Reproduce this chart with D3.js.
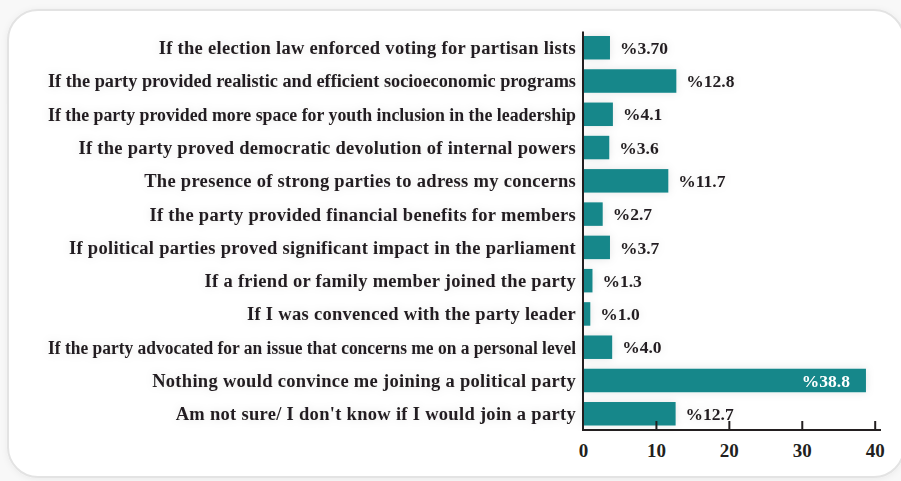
<!DOCTYPE html>
<html>
<head>
<meta charset="utf-8">
<script src="https://cdn.jsdelivr.net/npm/d3@7"></script>
<style>
  html, body { margin: 0; padding: 0; background: #f8f8f8; }
  svg { display: block; }
</style>
</head>
<body>
<svg id="chart" width="901" height="481"></svg>
<script>
// Reasons that would convince respondents to join a political party (%)
const categories = [
  "If the election law enforced voting for partisan lists",
  "If the party provided realistic and efficient socioeconomic programs",
  "If the party provided more space for youth inclusion in the leadership",
  "If the party proved democratic devolution of internal powers",
  "The presence of strong parties to adress my concerns",
  "If the party provided financial benefits for members",
  "If political parties proved significant impact in the parliament",
  "If a friend or family member joined the party",
  "If I was convenced with the party leader",
  "If the party advocated for an issue that concerns me on a personal level",
  "Nothing would convince me joining a political party",
  "Am not sure/ I don't know if I would join a party"
];
const values = [3.70, 12.8, 4.1, 3.6, 11.7, 2.7, 3.7, 1.3, 1.0, 4.0, 38.8, 12.7];
const valueLabels = ["%3.70", "%12.8", "%4.1", "%3.6", "%11.7", "%2.7", "%3.7", "%1.3", "%1.0", "%4.0", "%38.8", "%12.7"];
const xTicks = [0, 10, 20, 30, 40];

const svg = d3.select("#chart");
const W = 901, H = 481;
const FONT = "'Liberation Serif', 'Times New Roman', serif";
const TEXT = "#231f20";
const BAR = "#14878a";
const LABEL_RIGHT = 576;   // right edge of the category labels
const LABEL_MAX = 528;     // widest a category label may get

const defs = svg.append("defs");
const card = defs.append("filter").attr("id", "cardShadow")
  .attr("x", "-5%").attr("y", "-5%").attr("width", "110%").attr("height", "110%");
card.append("feDropShadow").attr("dx", 0).attr("dy", 1)
  .attr("stdDeviation", 3).attr("flood-color", "#000").attr("flood-opacity", 0.06);
const glow = defs.append("filter").attr("id", "softGlow")
  .attr("x", "-10%").attr("y", "-40%").attr("width", "120%").attr("height", "180%");
glow.append("feDropShadow").attr("dx", 0).attr("dy", 0)
  .attr("stdDeviation", 4).attr("flood-color", "#000").attr("flood-opacity", 0.10);

// Card background
svg.append("rect").attr("width", W).attr("height", H).attr("fill", "#f8f8f8");
svg.append("rect")
  .attr("x", 8).attr("y", 10).attr("width", 896).attr("height", 467)
  .attr("rx", 30).attr("ry", 30)
  .attr("fill", "#ffffff").attr("stroke", "#e3e3e3").attr("stroke-width", 2)
  .attr("filter", "url(#cardShadow)");

// Scales
const x = d3.scaleLinear().domain([0, 40]).range([583, 874.7]);
const y = d3.scaleBand().domain(categories).range([31.5, 430])
  .paddingInner(0.294).paddingOuter(0.135);

const g = svg.append("g").attr("filter", "url(#softGlow)");

// Bars
g.selectAll("rect.bar").data(values).join("rect")
  .attr("class", "bar")
  .attr("x", x(0))
  .attr("y", (d, i) => y(categories[i]))
  .attr("width", d => x(d) - x(0))
  .attr("height", y.bandwidth())
  .attr("fill", BAR);

// Category labels, squeezed when they would run past the left margin
g.selectAll("text.cat").data(categories).join("text")
  .attr("class", "cat")
  .attr("x", LABEL_RIGHT)
  .attr("y", d => y(d) + y.bandwidth() / 2)
  .attr("dy", "0.35em")
  .attr("text-anchor", "end")
  .attr("font-family", FONT).attr("font-weight", "bold").attr("font-size", 18.5)
  .attr("letter-spacing", 0.3)
  .attr("fill", TEXT)
  .text(d => d)
  .each(function () {
    const w = this.getComputedTextLength();
    if (w > LABEL_MAX) {
      d3.select(this).attr("letter-spacing", null)
        .attr("textLength", LABEL_MAX).attr("lengthAdjust", "spacingAndGlyphs");
    }
  });

// Value labels: inside the bar when it is long, otherwise after it
const maxV = d3.max(values);
g.selectAll("text.val").data(values).join("text")
  .attr("class", "val")
  .attr("x", d => d === maxV ? x(d) - 16 : x(d) + 10)
  .attr("y", (d, i) => y(categories[i]) + y.bandwidth() / 2)
  .attr("dy", "0.35em")
  .attr("text-anchor", d => d === maxV ? "end" : "start")
  .attr("font-family", FONT).attr("font-weight", "bold").attr("font-size", 17.5)
  .attr("fill", d => d === maxV ? "#ffffff" : TEXT)
  .text((d, i) => valueLabels[i]);

// Axes
const axisG = svg.append("g");
axisG.append("line")
  .attr("x1", x(0)).attr("x2", x(0)).attr("y1", 31.5).attr("y2", 431)
  .attr("stroke", TEXT).attr("stroke-width", 2);
axisG.append("line")
  .attr("x1", x(0) - 1).attr("x2", 881).attr("y1", 430).attr("y2", 430)
  .attr("stroke", TEXT).attr("stroke-width", 2);

const xAxis = d3.axisBottom(x).tickValues(xTicks).tickSizeInner(-9).tickSizeOuter(0).tickPadding(14);
const xa = axisG.append("g").attr("transform", "translate(0,430)").call(xAxis);
xa.select(".domain").remove();
xa.selectAll(".tick line").attr("stroke", TEXT).attr("stroke-width", 2)
  .filter(d => d === 0).remove();
xa.selectAll(".tick text")
  .attr("font-family", FONT).attr("font-weight", "bold").attr("font-size", 19)
  .attr("fill", TEXT);
</script>
</body>
</html>
